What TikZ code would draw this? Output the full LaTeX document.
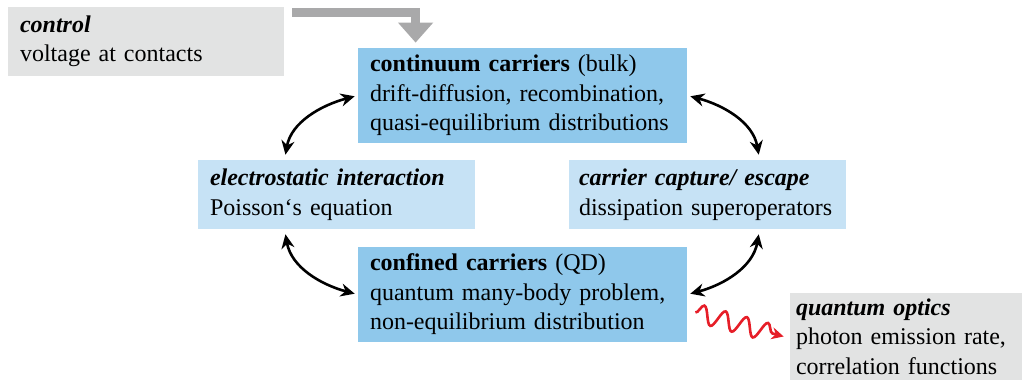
\documentclass[tikz,border=0pt]{standalone}
\usepackage{fontspec}
\setmainfont{Liberation Serif}
\usetikzlibrary{arrows.meta,calc,decorations.pathmorphing}
\definecolor{bulkblue}{RGB}{143,200,235}
\definecolor{paleblue}{RGB}{198,226,245}
\definecolor{panel}{RGB}{226,227,227}
\definecolor{feedgray}{RGB}{169,169,170}
\definecolor{photon}{RGB}{230,30,40}
\hyphenpenalty=10000

\begin{document}
\begin{tikzpicture}[x=0.5pt,y=0.5pt,
  tile/.style n args={4}{fill=#1,minimum width=#2,minimum height=#3,text width=#4,
    inner xsep=6pt,inner ysep=0pt,align=left,font=\fontsize{12}{14.75}\selectfont},
  link/.style={line width=1.3pt,{Stealth[length=7pt,width=6.5pt]}-{Stealth[length=7pt,width=6.5pt]},
    shorten <=1.5pt,shorten >=2.5pt},
  feed/.style={draw=feedgray,line width=4.5pt,-{Triangle[length=10pt,width=17pt]},shorten >=2.5pt},
  photonline/.style={draw=photon,line width=1.3pt,-{Stealth[length=6pt,width=6pt]},decorate,
    decoration={snake,amplitude=4.5pt,segment length=11pt,post length=5pt}}]
\useasboundingbox (0,0) rectangle (1022,382);
\node[tile={panel}{138pt}{34.5pt}{126pt}] (control) at (146,340.5) {\textbf{\textit{control}}\\voltage at contacts};
\node[tile={bulkblue}{164.5pt}{47.5pt}{152.5pt}] (cont) at (522.5,286.5) {\textbf{continuum carriers} (bulk)\\drift-diffusion, recombination,\\quasi-equilibrium distributions};
\node[tile={paleblue}{138.5pt}{34.5pt}{126.5pt}] (elec) at (336.5,187.5) {\textbf{\textit{electrostatic interaction}}\\Poisson‘s equation};
\node[tile={paleblue}{138.5pt}{34.5pt}{128.5pt},inner xsep=5pt] (carr) at (707.5,187.5) {\textbf{\textit{carrier capture/ escape}}\\dissipation superoperators};
\node[tile={bulkblue}{164.5pt}{47.5pt}{152.5pt}] (conf) at (522.5,87.5) {\textbf{confined carriers} (QD)\\quantum many-body problem,\\non-equilibrium distribution};
\node[tile={panel}{116pt}{43.5pt}{110pt},inner xsep=3pt] (qo) at (906,45.5) {\textbf{\textit{quantum optics}}\\photon emission rate,\\correlation functions};
\draw[feed] ($(control.north east)+(8,-5.5)$) -| ($(cont.north west)+(58,0)$);
\draw[link] (cont.west) to[out=195,in=80] ($(elec.north west)+(87,0)$);
\draw[link] (conf.west) to[out=165,in=-80] ($(elec.south west)+(87,0)$);
\draw[link] (cont.east) to[out=-15,in=100] ($(carr.north west)+(191,0)$);
\draw[link] (conf.east) to[out=15,in=-100] ($(carr.south west)+(191,0)$);
\draw[photonline] ($(conf.east)+(8,-18)$) -- ($(qo.west)+(-6,0)$);
\end{tikzpicture}
\end{document}
